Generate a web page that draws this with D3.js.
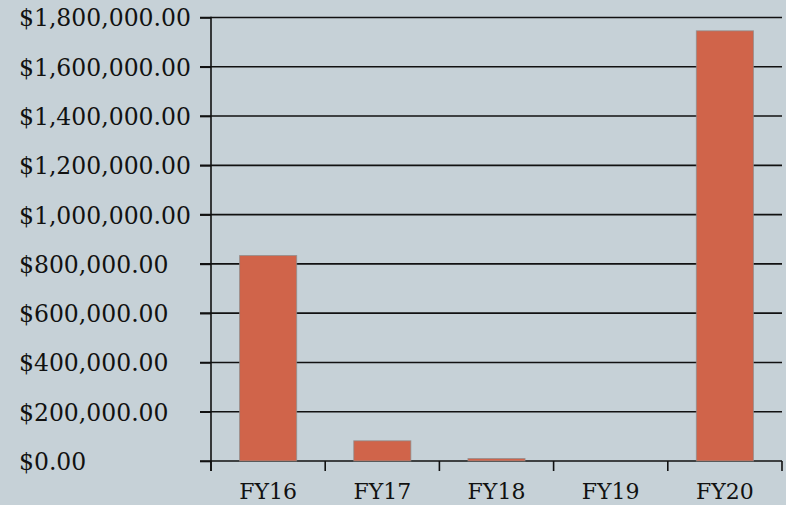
<!DOCTYPE html>
<html><head><meta charset="utf-8">
<script src="https://cdn.jsdelivr.net/npm/d3@7"></script>
<style>
html,body{margin:0;padding:0;background:#c6d1d7;}
svg{display:block;}
text{font-family:"DejaVu Serif",serif;fill:#111;}
</style></head>
<body>
<svg id="c" width="786" height="505"></svg>
<script>
const categories = ["FY16","FY17","FY18","FY19","FY20"];
const values = [834000, 82000, 10000, 0, 1746000];
const yTicks = [0,200000,400000,600000,800000,1000000,1200000,1400000,1600000,1800000];

(function(){
const svg = d3.select("#c");
const mLeft = 211, mRight = 782, mTop = 17.5, mBottom = 461;
const x = d3.scaleBand().domain(categories).range([mLeft, mRight]).padding(0);
const y = d3.scaleLinear().domain([0, 1800000]).range([mBottom, mTop]);
const fmt = v => "$" + d3.format(",.2f")(v);

// gridlines
svg.append("g").selectAll("line").data(yTicks).join("line")
  .attr("x1", 200).attr("x2", mRight)
  .attr("y1", d => y(d)).attr("y2", d => y(d))
  .attr("stroke", "#111").attr("stroke-width", 1.6);

// bars
svg.append("g").selectAll("rect").data(categories).join("rect")
  .attr("x", (d) => x(d) + x.bandwidth()/4)
  .attr("width", x.bandwidth()/2)
  .attr("y", (d,i) => y(values[i]))
  .attr("height", (d,i) => mBottom - y(values[i]))
  .attr("fill", "#d0644a")
  .attr("stroke", "rgba(140,140,140,0.7)").attr("stroke-width", 1);

// y axis
const yAxis = d3.axisLeft(y).tickValues(yTicks).tickFormat(fmt).tickSize(11).tickPadding(5);
const gy = svg.append("g").attr("transform", `translate(${mLeft},0)`).call(yAxis);
gy.select(".domain").remove();
gy.selectAll(".tick line").attr("stroke", "#111").attr("stroke-width", 1.6);
gy.selectAll("text").attr("font-size", 23.5).attr("font-family", "DejaVu Serif").attr("fill", "#111")
  .attr("text-anchor", "start").attr("x", 19 - mLeft).attr("dy", "0.36em");
svg.append("line").attr("x1", mLeft).attr("x2", mLeft).attr("y1", mTop - 0.8).attr("y2", mBottom + 10)
  .attr("stroke", "#111").attr("stroke-width", 1.6);

// x axis
const gx = svg.append("g").attr("transform", `translate(0,${mBottom})`)
  .call(d3.axisBottom(x).tickSize(0).tickPadding(0));
gx.select(".domain").remove();
gx.selectAll("text").attr("font-size", 22).attr("font-family", "DejaVu Serif").attr("fill", "#111")
  .attr("dy", null).attr("y", 38);
const bounds = categories.map(c => x(c)).concat([mRight]);
svg.append("g").selectAll("line").data(bounds).join("line")
  .attr("x1", d => d).attr("x2", d => d)
  .attr("y1", mBottom).attr("y2", mBottom + 10)
  .attr("stroke", "#111").attr("stroke-width", 1.6);
})();
</script>
</body></html>
